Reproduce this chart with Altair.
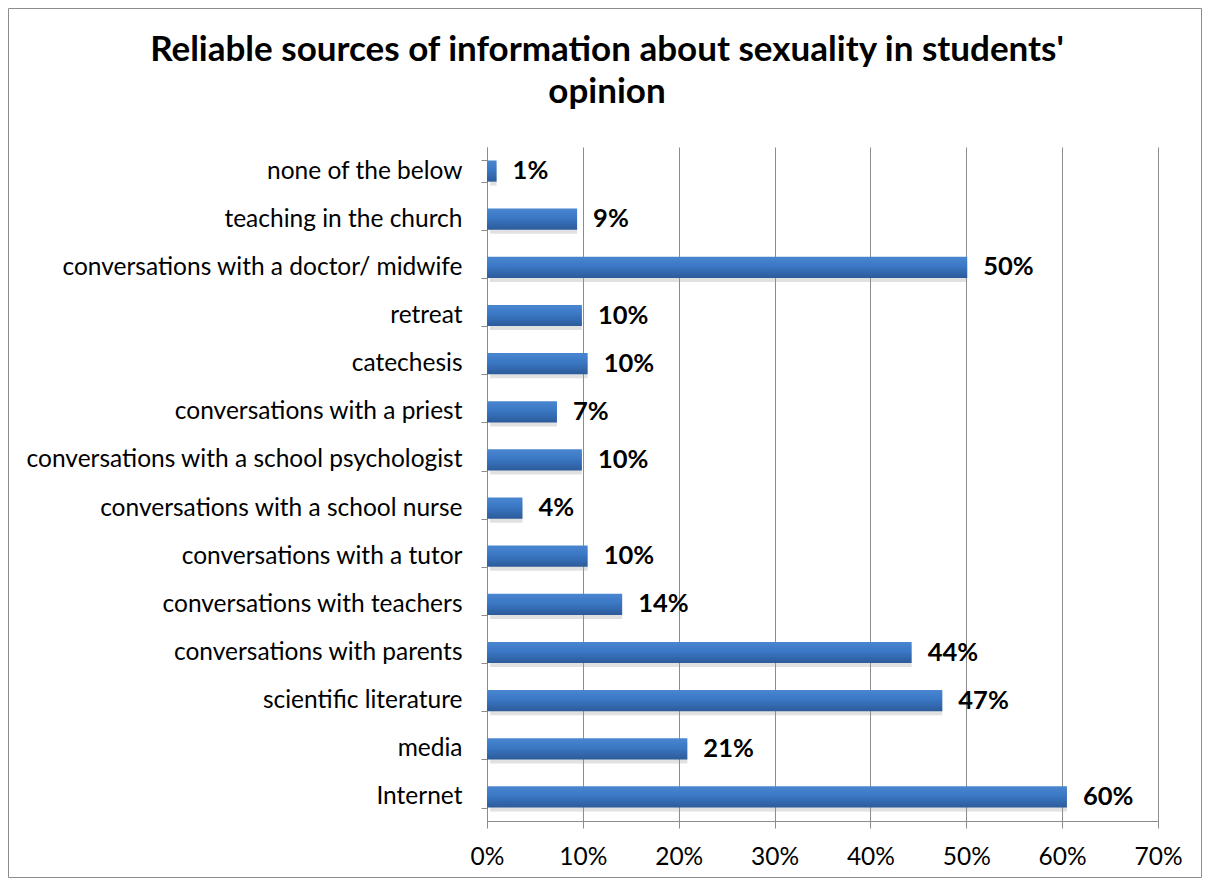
import altair as alt
import pandas as pd

categories = [
    "none of the below",
    "teaching in the church",
    "conversations with a doctor/ midwife",
    "retreat",
    "catechesis",
    "conversations with a priest",
    "conversations with a school psychologist",
    "conversations with a school nurse",
    "conversations with a tutor",
    "conversations with teachers",
    "conversations with parents",
    "scientific literature",
    "media",
    "Internet",
]
values = [0.010, 0.094, 0.501, 0.099, 0.105, 0.073, 0.099, 0.037, 0.105, 0.141, 0.443, 0.475, 0.209, 0.605]
labels = ["1%", "9%", "50%", "10%", "10%", "7%", "10%", "4%", "10%", "14%", "44%", "47%", "21%", "60%"]
x_ticks = [0, 0.1, 0.2, 0.3, 0.4, 0.5, 0.6, 0.7]
title_lines = ["Reliable sources of information about sexuality in students'", "opinion"]

df = pd.DataFrame({"cat": categories, "val": values, "lab": labels})

W, H = 671, 674
PL, PT, PR, PB = 479, 139, 44, 57
FONT = "Lato"

y_enc = alt.Y(
    "cat:N",
    sort=categories,
    scale=alt.Scale(paddingInner=0.56, paddingOuter=0.28),
    axis=alt.Axis(
        title=None,
        tickBand="extent",
        grid=False,
        labelFontSize=24.5,
        labelFont=FONT,
        labelColor="#000000",
        labelPadding=19,
        tickSize=6,
        tickColor="#8c8c8c",
        domainColor="#8c8c8c",
        labelLimit=600,
    ),
)
x_scale = alt.Scale(domain=[0, 0.7], nice=False)
x_enc = alt.X(
    "val:Q",
    scale=x_scale,
    axis=alt.Axis(
        title=None,
        values=x_ticks,
        format=".0%",
        grid=True,
        gridColor="#8c8c8c",
        gridWidth=1,
        labelFontSize=24.5,
        labelFont=FONT,
        labelColor="#000000",
        labelPadding=17,
        labelFlush=False,
        tickSize=7,
        tickColor="#8c8c8c",
        domainColor="#8c8c8c",
    ),
)

base = alt.Chart(df)

shadow = base.mark_bar(color="#9a9a9a", opacity=0.3, yOffset=4, x2Offset=3).encode(
    y=y_enc, x=alt.X("val:Q", scale=x_scale), x2=alt.datum(0)
)

gradient = alt.LinearGradient(
    gradient="linear",
    stops=[
        alt.GradientStop(color="#4a86d0", offset=0),
        alt.GradientStop(color="#3a77c4", offset=0.45),
        alt.GradientStop(color="#2c5b99", offset=1),
    ],
    x1=0, x2=0, y1=0, y2=1,
)

bars = base.mark_bar(color=gradient).encode(y=y_enc, x=x_enc)

text = base.mark_text(
    align="left", baseline="middle", dx=16, fontSize=25.5, fontWeight="bold", font=FONT, color="#000000"
).encode(y=alt.Y("cat:N", sort=categories), x=alt.X("val:Q", scale=x_scale), text="lab:N")

tdf = pd.DataFrame({"t": title_lines, "yy": [-97, -55]})
title = alt.Chart(tdf).mark_text(
    align="center", baseline="middle", fontSize=35, fontWeight="bold", font=FONT, color="#000000"
).encode(x=alt.value(120), y=alt.value(0), text="t:N", yOffset=alt.YOffset("yy:Q", scale=None))

border = alt.Chart(pd.DataFrame({"a": [0]})).mark_rect(
    fill=None, stroke="#8c8c8c", strokeWidth=1
).encode(
    x=alt.value(-PL + 0.5), x2=alt.value(W + PR - 0.5), y=alt.value(-PT + 0.5), y2=alt.value(H + PB - 0.5)
)

chart = (
    alt.layer(border, shadow, bars, text, title)
    .properties(
        width=W,
        height=H,
        autosize=alt.AutoSizeParams(type="none"),
        padding={"left": PL, "top": PT, "right": PR, "bottom": PB},
        background="white",
    )
    .configure_view(stroke=None)
)

chart.save("out.html", embed_options={"renderer": "svg", "actions": False})
